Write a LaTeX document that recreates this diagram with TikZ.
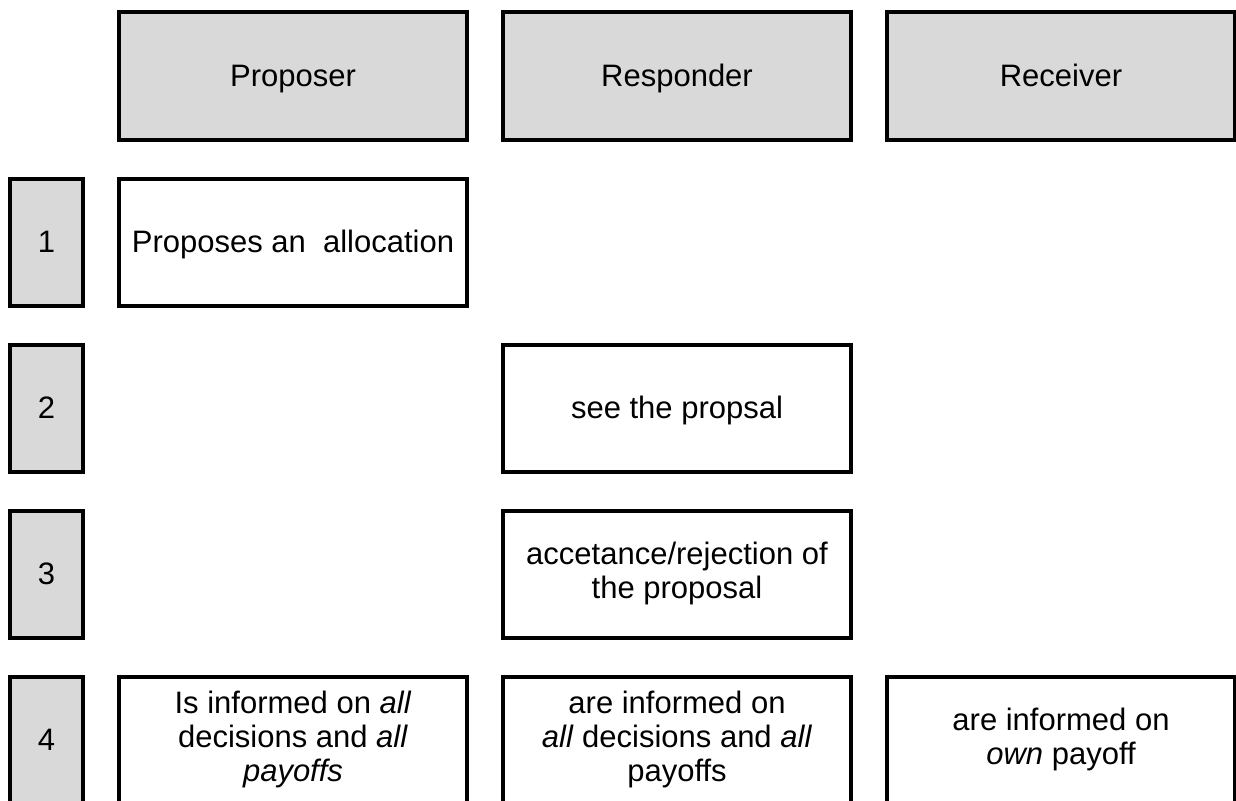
\documentclass[tikz,border=0pt]{standalone}
\usepackage{fontspec}
\setmainfont{Liberation Sans}
\definecolor{boxgray}{RGB}{217,217,217}
\newcommand{\lstrut}{\vrule height 28pt depth 6.6pt width 0pt}

\begin{document}
\begin{tikzpicture}[x=1pt, y=-1pt,
  box/.style={draw=black, line width=4pt, minimum width=348pt, minimum height=127pt,
    inner sep=0pt, align=center, font=\fontsize{31}{34}\selectfont,
    execute at begin node=\lstrut, execute at end node=\lstrut},
  head/.style={box, fill=boxgray},
  num/.style={head, minimum width=73pt}]

\fill[white] (0,0) rectangle (1236,800);
\useasboundingbox (0,0) rectangle (1236,800);

\node[head] (P) at (293,76) {Proposer};
\node[head] (R) at (677,76) {Responder};
\node[head] (V) at (1061,76) {Receiver};

\node[num] (S1) at (46.5,242) {1};
\node[num] (S2) at (46.5,408) {2};
\node[num] (S3) at (46.5,574) {3};
\node[num] (S4) at (46.5,740) {4};

\node[box] (P1) at (293,242) {Proposes an~~allocation};
\node[box] (R2) at (677,408) {see the propsal};
\node[box] (R3) at (677,574) {accetance/rejection of\\the proposal};
\node[box] (P4) at (293,740) {Is informed on \textit{all}\\decisions and \textit{all}\\\textit{payoffs}};
\node[box] (R4) at (677,740) {are informed on\\\textit{all} decisions and \textit{all}\\payoffs};
\node[box] (V4) at (1061,740) {are informed on\\\textit{own} payoff};

\end{tikzpicture}
\end{document}
